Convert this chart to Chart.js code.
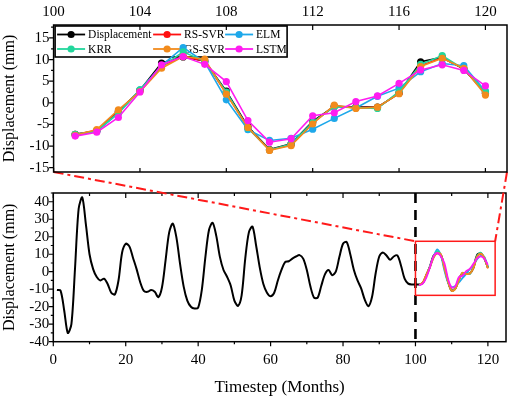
<!DOCTYPE html>
<html lang="en">
<head>
  <meta charset="UTF-8">
  <title>Displacement prediction</title>
  <script src="https://cdn.jsdelivr.net/npm/chart.js"></script>
  <style>
    body { margin: 0; background: #fff; }
    #wrap { position: relative; width: 512px; height: 398px; }
    canvas { position: absolute; left: 0; top: 0; }
  </style>
</head>
<body>
  <div id="wrap">
    <canvas id="fullChart" width="512" height="398"></canvas>
    <canvas id="zoomChart" width="512" height="180"></canvas>
  </div>

  <script>
    // ---- data ----
    const months = [101, 102, 103, 104, 105, 106, 107, 108, 109, 110,
                    111, 112, 113, 114, 115, 116, 117, 118, 119, 120];

    const displacement = [-7.3, -6.5, -2.0, 2.9, 9.2, 10.6, 9.7, 2.7, -5.5, -10.8,
                          -9.5, -4.3, -0.8, -1.0, -1.0, 2.2, 9.5, 10.5, 7.8, 2.3];
    const rsSvr = [-7.3, -6.4, -2.1, 2.8, 8.5, 10.8, 9.6, 2.2, -5.8, -10.9,
                   -9.7, -4.6, -0.8, -1.1, -1.1, 2.3, 8.6, 10.4, 7.9, 2.2];
    const elm = [-7.4, -6.6, -2.4, 3.0, 8.6, 12.8, 9.4, 0.7, -6.2, -8.7,
                 -8.2, -6.1, -3.6, -1.2, 1.5, 3.4, 7.2, 9.1, 8.6, 2.7];
    const krr = [-7.3, -6.5, -2.4, 3.0, 8.4, 11.8, 9.6, 2.5, -5.8, -10.9,
                 -9.5, -4.5, -0.9, -1.1, -1.3, 2.6, 8.9, 10.9, 7.8, 2.5];
    const gsSvr = [-7.5, -6.2, -1.6, 2.6, 8.0, 10.7, 10.1, 2.0, -5.7, -11.0,
                   -9.9, -4.9, -0.5, -1.3, -1.0, 2.1, 8.4, 10.3, 8.0, 1.8];
    const lstm = [-7.7, -6.8, -3.4, 2.5, 8.8, 10.7, 8.9, 4.9, -4.1, -9.1,
                  -8.3, -3.0, -2.3, 0.3, 1.6, 4.5, 7.6, 8.8, 7.5, 3.9];

    // measured displacement, months 1..100
    const history = [
      -10.5, -10.8, -22, -35, -30, 2, 36, 42.5, 27, 10,
      1.5, -3, -5, -4, -7, -12, -13, -5, 11, 16,
      14.5, 8, 1.5, -6, -11, -11.5, -10.5, -11.5, -14.5, -9,
      6.5, 22.5, 27.5, 19.5, 4.5, -8.5, -16.5, -20, -21, -20.5,
      -10.5, 8.5, 24, 28, 20.5, 8.5, 1, -3, -8, -16.5,
      -19.5, -13.5, 7.5, 22.5, 25.8, 15, 2.5, -7, -12, -14,
      -12, -5, 1, 5.5, 6, 7.5, 8.7, 9.5, 7.5, 1,
      -8.5, -14.8, -14.8, -8, -1.5, 1, -2, 0, 8.5, 16,
      17, 10, 1, -5, -9.5, -16, -19.7, -14.5, -1, 8.7,
      11, 9.3, 6.8, 8.7, 9.3, 3.6, -4, -6.8, -7.3, -7.2
    ];

    const topXTicks = [100, 104, 108, 112, 116, 120];
    const topYTicks = [-15, -10, -5, 0, 5, 10, 15];
    const fullXTicks = [0, 20, 40, 60, 80, 100, 120];
    const fullYTicks = [-40, -30, -20, -10, 0, 10, 20, 30, 40];

    const splitMonth = 100;
    const zoomBox = { x0: 100, x1: 122, y0: -13.5, y1: 17.4 };

    const seriesList = [
      { name: 'Displacement', values: displacement, color: '#000000' },
      { name: 'RS-SVR', values: rsSvr, color: '#ff1010' },
      { name: 'ELM', values: elm, color: '#1ea8ea' },
      { name: 'KRR', values: krr, color: '#22d69c' },
      { name: 'GS-SVR', values: gsSvr, color: '#f28b1c' },
      { name: 'LSTM', values: lstm, color: '#ff1cf0' }
    ];

    const SERIF = "'Liberation Serif', 'Times New Roman', serif";
    Chart.defaults.font.family = SERIF;
    Chart.defaults.color = '#000';

    function toPoints(xs, ys) {
      return xs.map((x, i) => ({ x: x, y: ys[i] }));
    }

    function fixedTicks(list) {
      return axis => { axis.ticks = list.map(v => ({ value: v })); };
    }

    const noGrid = { display: false, drawTicks: false };

    // ---- top chart: the zoomed-in comparison ----
    const legendBox = {
      id: 'legendBox',
      beforeDatasetsDraw(chart) {
        const { ctx, chartArea: a } = chart;
        const bx = a.left + 1.5, by = a.top + 1, bw = 232, bh = 31;
        const colX = [2, 98, 170];
        const rowY = [8.5, 23];
        ctx.save();
        ctx.strokeStyle = '#000';
        ctx.lineWidth = 1.6;
        ctx.strokeRect(bx, by, bw, bh);
        ctx.font = '11.5px ' + SERIF;
        ctx.textBaseline = 'middle';
        ctx.fillStyle = '#000';
        seriesList.forEach((s, i) => {
          const x = bx + colX[i % 3];
          const y = by + rowY[Math.floor(i / 3)];
          ctx.strokeStyle = s.color;
          ctx.lineWidth = 1.8;
          ctx.beginPath();
          ctx.moveTo(x, y);
          ctx.lineTo(x + 28, y);
          ctx.stroke();
          ctx.fillStyle = s.color;
          ctx.beginPath();
          ctx.arc(x + 14, y, 3.6, 0, Math.PI * 2);
          ctx.fill();
          ctx.fillStyle = '#000';
          ctx.fillText(s.name, x + 31, y + 0.5);
        });
        ctx.restore();
      }
    };

    const topFrame = {
      id: 'topFrame',
      afterDraw(chart) {
        const { ctx, chartArea: a, scales: { x, y } } = chart;
        ctx.save();
        ctx.strokeStyle = '#000';
        ctx.lineWidth = 1.5;
        ctx.strokeRect(a.left, a.top, a.width, a.height);
        ctx.lineWidth = 1.2;
        ctx.beginPath();
        topXTicks.forEach(v => {
          const px = x.getPixelForValue(v);
          ctx.moveTo(px, a.top); ctx.lineTo(px, a.top + 5);
          ctx.moveTo(px, a.bottom); ctx.lineTo(px, a.bottom - 4);
        });
        for (let v = -15; v <= y.max; v += 2.5) {
          const py = y.getPixelForValue(v);
          const len = v % 5 === 0 ? 4.5 : 2.5;
          ctx.moveTo(a.left, py); ctx.lineTo(a.left - len, py);
        }
        ctx.stroke();
        ctx.restore();
      }
    };

    const zoomChart = new Chart(document.getElementById('zoomChart'), {
      type: 'line',
      data: {
        datasets: seriesList.map((s, i) => ({
          label: s.name,
          data: toPoints(months, s.values),
          borderColor: s.color,
          backgroundColor: s.color,
          borderWidth: 1.6,
          pointRadius: 3.6,
          pointBorderWidth: 0,
          tension: 0,
          order: seriesList.length - i
        }))
      },
      options: {
        responsive: false,
        animation: false,
        events: [],
        layout: { padding: { left: 0, top: 0, right: 5, bottom: 8 } },
        plugins: { legend: { display: false }, tooltip: { enabled: false } },
        scales: {
          x: {
            type: 'linear', position: 'top', min: 100, max: 121,
            grid: noGrid, border: { display: false },
            afterBuildTicks: fixedTicks(topXTicks),
            afterFit: s => { s.height = 25; s.paddingLeft = 0; s.paddingRight = 0; },
            ticks: { font: { size: 15 }, padding: 4, maxRotation: 0, autoSkip: false }
          },
          y: {
            min: -16, max: 18,
            grid: noGrid, border: { display: false },
            afterBuildTicks: fixedTicks(topYTicks),
            afterFit: s => { s.width = 53.6; s.paddingTop = 0; s.paddingBottom = 0; },
            ticks: { font: { size: 15 }, padding: 4, autoSkip: false },
            title: { display: true, text: 'Displacement (mm)', font: { size: 16 }, padding: 0 }
          }
        }
      },
      plugins: [legendBox, topFrame]
    });

    // ---- bottom chart: the whole record ----
    const fullOverlay = {
      id: 'fullOverlay',
      afterDraw(chart) {
        const { ctx, chartArea: a, scales: { x, y } } = chart;
        ctx.save();
        ctx.strokeStyle = '#000';
        ctx.lineWidth = 1.5;
        ctx.strokeRect(a.left, a.top, a.width, a.height);
        ctx.lineWidth = 1.2;
        ctx.beginPath();
        for (let v = 0; v <= x.max; v += 10) {
          const px = x.getPixelForValue(v);
          const major = v % 20 === 0;
          ctx.moveTo(px, a.bottom); ctx.lineTo(px, a.bottom + (major ? 4.5 : 2.5));
          ctx.moveTo(px, a.top); ctx.lineTo(px, a.top + (major ? 5 : 3));
        }
        for (let v = -40; v <= y.max; v += 5) {
          const py = y.getPixelForValue(v);
          ctx.moveTo(a.left, py); ctx.lineTo(a.left - (v % 10 === 0 ? 4.5 : 2.5), py);
        }
        ctx.stroke();

        // split between training and prediction
        const sx = x.getPixelForValue(splitMonth);
        ctx.lineWidth = 2.6;
        ctx.setLineDash([10, 7]);
        ctx.beginPath();
        ctx.moveTo(sx, a.top); ctx.lineTo(sx, a.bottom);
        ctx.stroke();

        // zoom window
        const rx0 = x.getPixelForValue(zoomBox.x0), rx1 = x.getPixelForValue(zoomBox.x1);
        const ry0 = y.getPixelForValue(zoomBox.y1), ry1 = y.getPixelForValue(zoomBox.y0);
        ctx.setLineDash([]);
        ctx.strokeStyle = '#ff1a1a';
        ctx.lineWidth = 1.5;
        ctx.strokeRect(rx0, ry0, rx1 - rx0, ry1 - ry0);

        // leader lines to the upper panel
        const t = zoomChart.chartArea;
        ctx.lineWidth = 2;
        ctx.setLineDash([10, 4, 3, 4]);
        ctx.beginPath();
        ctx.moveTo(t.left, t.bottom); ctx.lineTo(rx0, ry0);
        ctx.moveTo(t.right, t.bottom); ctx.lineTo(rx1, ry0);
        ctx.stroke();
        ctx.restore();
      }
    };

    const allSteps = history.map((v, i) => i + 1).concat(months);
    const allValues = history.concat(displacement);

    const fullSets = [{
      label: 'Displacement',
      data: toPoints(allSteps, allValues),
      borderColor: '#000',
      borderWidth: 2,
      pointRadius: 0,
      tension: 0.3,
      order: 10
    }];
    seriesList.slice(1).forEach((s, i) => {
      fullSets.push({
        label: s.name,
        data: toPoints(months, s.values),
        borderColor: s.color,
        borderWidth: 1.8,
        pointRadius: 0,
        tension: 0.3,
        order: 6 - i
      });
    });

    const fullChart = new Chart(document.getElementById('fullChart'), {
      type: 'line',
      data: { datasets: fullSets },
      options: {
        responsive: false,
        animation: false,
        events: [],
        layout: { padding: { left: 0, top: 193, right: 6, bottom: 0 } },
        plugins: { legend: { display: false }, tooltip: { enabled: false } },
        scales: {
          x: {
            type: 'linear', min: 0, max: 125,
            grid: noGrid, border: { display: false },
            afterBuildTicks: fixedTicks(fullXTicks),
            afterFit: s => { s.height = 56.3; s.paddingLeft = 0; s.paddingRight = 0; },
            ticks: { font: { size: 15 }, padding: 9, maxRotation: 0, autoSkip: false },
            title: { display: true, text: 'Timestep (Months)', font: { size: 17 }, padding: 0 }
          },
          y: {
            min: -40, max: 45,
            grid: noGrid, border: { display: false },
            afterBuildTicks: fixedTicks(fullYTicks),
            afterFit: s => { s.width = 53.3; s.paddingTop = 0; s.paddingBottom = 0; },
            ticks: { font: { size: 15 }, padding: 4, autoSkip: false },
            title: { display: true, text: 'Displacement (mm)', font: { size: 16 }, padding: 0 }
          }
        }
      },
      plugins: [fullOverlay]
    });
  </script>
</body>
</html>
